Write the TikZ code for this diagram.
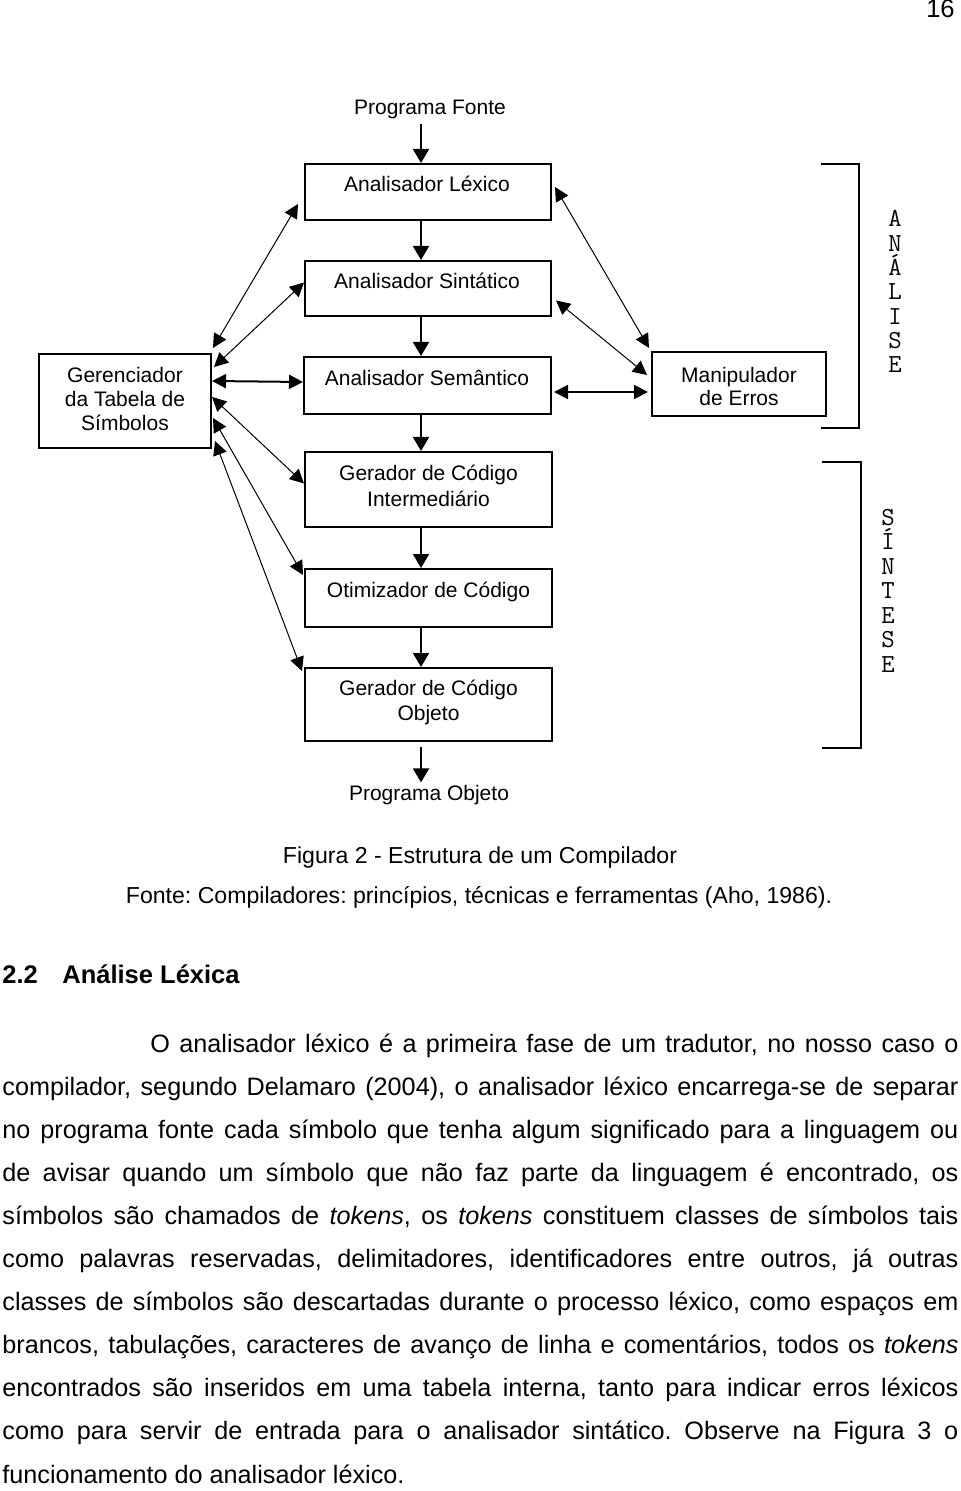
\documentclass[tikz,border=0pt]{standalone}
\usepackage{fontspec}
\setmainfont{Liberation Sans}
\usetikzlibrary{arrows.meta,calc}
\frenchspacing
\begin{document}
\frenchspacing
\begin{tikzpicture}[x=0.5pt,y=-0.5pt,
  box/.style={draw, line width=1pt, rectangle, inner sep=0pt},
  lbl/.style={font=\fontsize{10.5pt}{12pt}\selectfont, inner sep=0pt, anchor=base},
  mlbl/.style={font=\fontsize{10.5pt}{12pt}\selectfont, inner sep=0pt, anchor=center, align=center},
  vlet/.style={font=\ttfamily\fontsize{13pt}{13pt}\selectfont, inner sep=0pt, anchor=base},
  txt/.style={font=\fontsize{12.75pt}{21.55pt}\selectfont, inner sep=0pt},
  captxt/.style={font=\fontsize{11.55pt}{14pt}\selectfont, inner sep=0pt, anchor=base},
  varr/.style={line width=1pt, -{Triangle[length=7pt,width=8pt]}},
  darr/.style={line width=0.5pt, {Triangle[length=7pt,width=7pt]}-{Triangle[length=7pt,width=7pt]}},
  harr/.style={line width=1pt, {Triangle[length=7pt,width=7pt]}-{Triangle[length=7pt,width=7pt]}},
  brk/.style={line width=1pt}
]
\useasboundingbox (0,0) rectangle (960,1491);

% page number
\node[txt, anchor=base east] (pg) at (955,18) {16};

% main column boxes
\node[box, minimum width=123pt, minimum height=28pt]   (lex) at (428,192) {};
\node[box, minimum width=123pt, minimum height=27.5pt] (sin) at (428,288.5) {};
\node[box, minimum width=123.5pt, minimum height=28.5pt] (sem) at (427.5,385.5) {};
\node[box, minimum width=123.5pt, minimum height=37.5pt] (gci) at (428.5,489.5) {};
\node[box, minimum width=123.5pt, minimum height=29pt] (oti) at (428.5,598) {};
\node[box, minimum width=123.5pt, minimum height=36.5pt] (gco) at (428.5,704.5) {};
\node[box, minimum width=86pt, minimum height=47pt] (ger) at (125,401) {};
\node[box, minimum width=87pt, minimum height=32pt] (man) at (739,384) {};

% labels
\node[lbl] (pfT) at (430,115) {Programa Fonte};
\node[lbl] (lexT) at (427,192) {Analisador Léxico};
\node[lbl] (sinT) at (427,289) {Analisador Sintático};
\node[lbl] (semT) at (427,386) {Analisador Semântico};
\node[mlbl, font=\fontsize{10.5pt}{13pt}\selectfont] (gciT) at (428.5,485.5) {Gerador de Código\\Intermediário};
\node[lbl] (otiT) at (428.5,597) {Otimizador de Código};
\node[mlbl, font=\fontsize{10.5pt}{12.5pt}\selectfont] (gcoT) at (428.5,702) {Gerador de Código\\Objeto};
\node[lbl] (poT) at (429,800) {Programa Objeto};
\node[mlbl, font=\fontsize{10.5pt}{12pt}\selectfont] (gerT) at (125,398.5) {Gerenciador\\da Tabela de\\Símbolos};
\node[mlbl, font=\fontsize{10.5pt}{11.5pt}\selectfont] (manT) at (739,386) {Manipulador\\de Erros};

% vertical flow
\coordinate (col) at (421,0);
\draw[varr, shorten <=2pt] (pfT.south -| col) -- (lex.north -| col);
\draw[varr] (lex.south -| col) -- (sin.north -| col);
\draw[varr] (sin.south -| col) -- (sem.north -| col);
\draw[varr] (sem.south -| col) -- (gci.north -| col);
\draw[varr] (gci.south -| col) -- (oti.north -| col);
\draw[varr] (oti.south -| col) -- (gco.north -| col);
\draw[varr, shorten <=2.5pt, shorten >=1pt] (gco.south -| col) -- (poT.north -| col);

% symbol table manager links
\draw[darr] ([shift={(1,-5)}]ger.north east) -- ([shift={(-6,12)}]lex.west);
\draw[darr] ([shift={(2,14)}]ger.north east) -- ([shift={(0,-6)}]sin.west);
\draw[harr] ([shift={(0,28)}]ger.north east) -- ([shift={(0,-3.5)}]sem.west);
\draw[darr] ([shift={(0,44)}]ger.north east) -- ([shift={(0,-6)}]gci.west);
\draw[darr] ([shift={(1,65)}]ger.north east) -- ([shift={(-1,7)}]oti.north west);
\draw[darr] ([shift={(3,88)}]ger.north east) -- ([shift={(-2,4)}]gco.north west);

% error handler links
\draw[darr] ([shift={(3,-5)}]lex.east) -- ([shift={(-2,-3)}]man.north west);
\draw[darr] ([shift={(4,12)}]sin.east) -- ([shift={(-4,-9)}]man.west);
\draw[harr] ([shift={(2,6.5)}]sem.east) -- ([shift={(-3,8)}]man.west);

% brackets
\draw[brk] (821,164) -- (859,164) -- (859,428) -- (821,428);
\draw[brk] (822,462) -- (861,462) -- (861,748) -- (822,748);
\foreach \c [count=\i] in {A,N,Á,L,I,S,E}
  \node[vlet] (an\i) at (895,{227+24.3*(\i-1)}) {\c};
\foreach \c [count=\i] in {S,Í,N,T,E,S,E}
  \node[vlet] (si\i) at (888,{525+24.5*(\i-1)}) {\c};

% caption
\node[captxt] (cap1) at (480,863) {Figura 2 - Estrutura de um Compilador};
\node[captxt] (cap2) at (479,903) {Fonte: Compiladores: princípios, técnicas e ferramentas (Aho, 1986).};

% heading
\node[txt, anchor=base west] (head) at (2,983) {\bfseries\makebox[30pt][l]{2.2}Análise Léxica};

% body
\node[txt, anchor=base west] (body) at (2,1052) {\parbox[t]{478pt}{\fontsize{12.6pt}{21.55pt}\selectfont\frenchspacing
\hbox to\linewidth{\hskip74pt O analisador léxico é a primeira fase de um tradutor, no nosso caso o}
\hbox to\linewidth{compilador, segundo Delamaro (2004), o analisador léxico encarrega-se de separar}
\hbox to\linewidth{no programa fonte cada símbolo que tenha algum significado para a linguagem ou}
\hbox to\linewidth{de avisar quando um símbolo que não faz parte da linguagem é encontrado, os}
\hbox to\linewidth{símbolos são chamados de \textit{tokens}, os \textit{tokens} constituem classes de símbolos tais}
\hbox to\linewidth{como palavras reservadas, delimitadores, identificadores entre outros, já outras}
\hbox to\linewidth{classes de símbolos são descartadas durante o processo léxico, como espaços em}
\hbox to\linewidth{brancos, tabulações, caracteres de avanço de linha e comentários, todos os \textit{tokens}}
\hbox to\linewidth{encontrados são inseridos em uma tabela interna, tanto para indicar erros léxicos}
\hbox to\linewidth{como para servir de entrada para o analisador sintático. Observe na Figura 3 o}
\hbox{funcionamento do analisador léxico.}
}};
\end{tikzpicture}
\end{document}
